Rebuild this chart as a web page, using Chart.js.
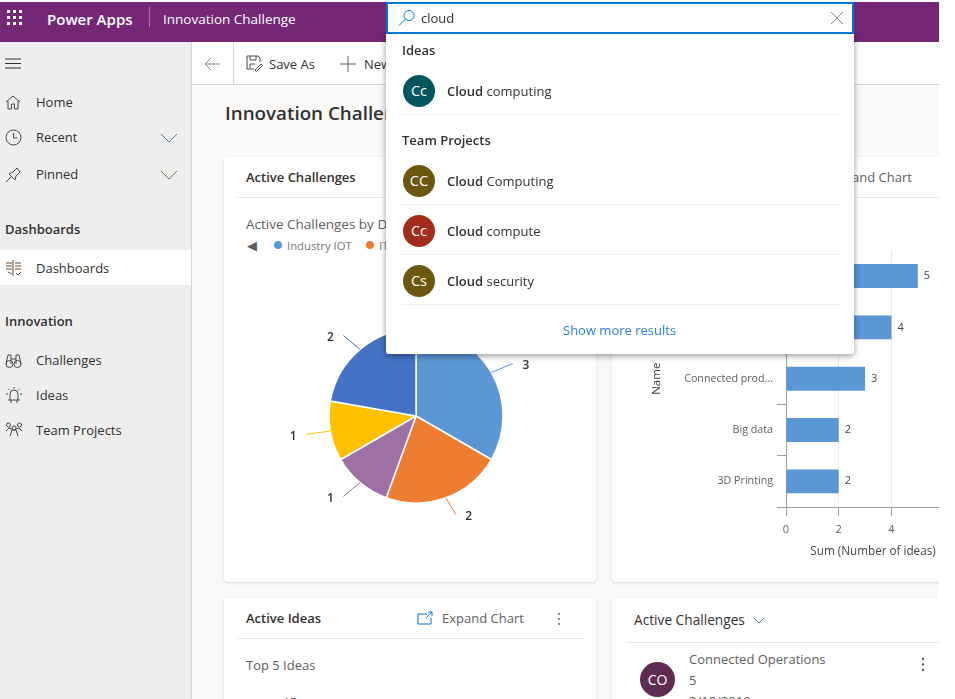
<!DOCTYPE html>
<html>
<head>
<meta charset="utf-8">
<title>Innovation Challenge</title>
<script src="https://cdn.jsdelivr.net/npm/chart.js@4"></script>
<style>
    html, body { margin: 0; padding: 0; background: #fff; overflow: hidden; }
    body { font-family: "Open Sans", "Noto Sans", sans-serif; font-size: 13px; color: #323130; }
    #app { position: absolute; left: 0; top: 0; width: 939px; height: 699px; overflow: hidden; background: #faf9f8; }
    #blank { position: absolute; left: 0; top: 0; width: 939px; height: 2px; background: #fff; z-index: 1; }
    .box { position: absolute; }
    .t { position: absolute; white-space: nowrap; transform: translateY(-50%); }
    .semi { font-weight: 600; }
    .dim { color: #605e5c; }
    .icon { position: absolute; fill: none; stroke: #484644; stroke-width: 1; }
    .card { position: absolute; background: #fff; border-radius: 4px; box-shadow: 0 1px 3px rgba(0,0,0,.14); }
    .rule { position: absolute; height: 1px; background: #e8e6e4; }
    .avatar { position: absolute; border-radius: 50%; color: #fff; text-align: center; }
    #topbar { position: absolute; left: 0; top: 2px; width: 939px; height: 40px; background: #742774; color: #fff; }
    #sidebar { position: absolute; left: 0; top: 42px; width: 191px; height: 657px; background: #eeeeee; border-right: 1px solid #d8d6d4; }
    #commands { position: absolute; left: 192px; top: 42px; width: 747px; height: 42px; background: #fff; border-bottom: 1px solid #d8d6d4; }
    #search { position: absolute; left: 386px; top: 2px; width: 464px; height: 28px; background: #fff; border: 2px solid #0078d4; z-index: 6; }
    #popup { position: absolute; left: 386px; top: 34px; width: 468px; height: 320px; background: #fff; border-radius: 0 0 3px 3px; box-shadow: 0 2px 6px rgba(0,0,0,.4); z-index: 5; }
</style>
</head>
<body>
<div id="app">
    <div id="blank"></div>
    <div id="topbar">
        <svg class="icon" style="left:7px;top:8px;stroke:none;fill:#fff" width="16" height="16" id="waffle"></svg>
        <div class="t semi" style="left:47px;top:17px;font-size:15px">Power Apps</div>
        <div class="box" style="left:149px;top:5px;width:1px;height:20px;background:#a877a8"></div>
        <div class="t" style="left:163px;top:17px;font-size:13.5px">Innovation Challenge</div>
    </div>

    <div id="sidebar"></div>
    <div class="box" style="left:0;top:250px;width:191px;height:35px;background:#fff"></div>
    <svg class="icon" style="left:5px;top:55px;stroke:#323130" width="18" height="16"><path d="M0 4h16M0 8.500h16M0 13h16"/></svg>
    <svg class="icon" style="left:5px;top:94px" width="18" height="17"><path d="M1 8l7-6 7 6M3 7v8h3.5v-5h3v5H13V7"/></svg>
    <svg class="icon" style="left:5px;top:129px" width="18" height="17"><circle cx="8.5" cy="8.5" r="7.5"/><path d="M8.5 4v5h4"/></svg>
    <svg class="icon" style="left:5px;top:166px" width="18" height="17"><path d="M1 16l5-5M4 8l6 6 1-4 4-4-3-4-4 4z"/></svg>
    <svg class="icon" style="left:6px;top:259px;stroke:#6b4a2e" width="16" height="18"><path d="M7 1v16M0 4h6M0 7h6M0 10h6M9 4h6M9 7h6M9 10h6M2 13l4 2M10 14l2 2 3-3"/></svg>
    <svg class="icon" style="left:5px;top:352px" width="18" height="17"><circle cx="4.5" cy="12" r="3.5"/><circle cx="12.5" cy="12" r="3.5"/><path d="M1 12l2-9h3v9M16 12l-2-9h-3v9M6 7h5"/></svg>
    <svg class="icon" style="left:5px;top:386px" width="18" height="18"><path d="M5 14V8a4 4 0 0 1 8 0v6M3 14h12M6 14v3M12 14v3M1 8h2M15 8h2M9 1v1.500M3.500 3l1 1M14.500 3l-1 1"/></svg>
    <svg class="icon" style="left:5px;top:422px" width="18" height="16"><circle cx="3.500" cy="3" r="2"/><circle cx="14.500" cy="3" r="2"/><circle cx="9" cy="6" r="2"/><path d="M1 9l3-3 3 1M17 9l-3-3-3 1M5 14l2-6h4l2 6"/></svg>
    <svg class="icon" style="left:160px;top:132px;stroke:#4f7fae" width="20" height="12"><path d="M1 2l8 8 8-8"/></svg>
    <svg class="icon" style="left:160px;top:169px;stroke:#8a6d4b" width="20" height="12"><path d="M1 2l8 8 8-8"/></svg>
    <div class="t" style="left:36px;top:102px">Home</div>
    <div class="t" style="left:36px;top:137px">Recent</div>
    <div class="t" style="left:36px;top:174px">Pinned</div>
    <div class="t semi" style="left:5px;top:229px">Dashboards</div>
    <div class="t" style="left:36px;top:268px">Dashboards</div>
    <div class="t semi" style="left:5px;top:321px">Innovation</div>
    <div class="t" style="left:36px;top:360px">Challenges</div>
    <div class="t" style="left:36px;top:395px">Ideas</div>
    <div class="t" style="left:36px;top:430px">Team Projects</div>

    <div id="commands"></div>
    <svg class="icon" style="left:204px;top:57px;stroke:#8a8886" width="17" height="14"><path d="M16 7H1M7 1L1 7l6 6"/></svg>
    <div class="box" style="left:233px;top:42px;width:1px;height:42px;background:#d8d6d4"></div>
    <svg class="icon" style="left:246px;top:55px" width="18" height="17"><path d="M8 14H1V1h11l2 2v4M4 1v4h6V1M4 13V9h5M9 15l6-6 1.500 1.500-6 6z"/></svg>
    <div class="t" style="left:269px;top:64px">Save As</div>
    <svg class="icon" style="left:340px;top:56px;stroke:#605e5c" width="16" height="16"><path d="M8 0v16M0 8h16"/></svg>
    <div class="t" style="left:364px;top:64px">New</div>

    <div class="t semi" style="left:225px;top:113px;font-size:18.800px">Innovation Challenges</div>

    <div class="card" style="left:224px;top:157px;width:372px;height:425px"></div>
    <div class="t semi" style="left:246px;top:177px">Active Challenges</div>
    <div class="rule" style="left:238px;top:197px;width:346px"></div>
    <div class="t dim" style="left:246px;top:224px;font-size:13.500px">Active Challenges by Domain</div>
    <div class="t" style="left:247px;top:245px;font-size:13px;color:#605e5c">◀</div>
    <div id="pieLegend"></div>
    <canvas id="pieChart" class="box" style="left:236px;top:276px"></canvas>

    <div class="card" style="left:612px;top:157px;width:400px;height:425px"></div>
    <div class="t dim" style="left:830px;top:177px">Expand Chart</div>
    <div class="rule" style="left:624px;top:197px;width:315px"></div>
    <canvas id="barChart" class="box" style="left:648px;top:240px"></canvas>

    <div class="card" style="left:224px;top:598px;width:372px;height:200px"></div>
    <div class="t semi" style="left:246px;top:618px">Active Ideas</div>
    <svg class="icon" style="left:417px;top:611px;stroke:#0078d4" width="17" height="15"><path d="M10 3H1v10h13V7M9 7l6-6M11 1h4v4"/></svg>
    <div class="t dim" style="left:442px;top:618px">Expand Chart</div>
    <svg class="icon" style="left:557px;top:612px;fill:#605e5c;stroke:none" width="4" height="14"><circle cx="2" cy="2" r="1"/><circle cx="2" cy="7" r="1"/><circle cx="2" cy="12" r="1"/></svg>
    <div class="rule" style="left:238px;top:638px;width:345px"></div>
    <div class="t dim" style="left:246px;top:665px">Top 5 Ideas</div>
    <div class="t dim" style="left:283px;top:702px;font-size:12px">15</div>

    <div class="card" style="left:612px;top:598px;width:400px;height:200px"></div>
    <div class="t" style="left:634px;top:619px;font-size:13.700px">Active Challenges</div>
    <svg class="icon" style="left:753px;top:617px;stroke:#4f7fae" width="12" height="8"><path d="M1 1l5 5 5-5"/></svg>
    <div class="rule" style="left:626px;top:642px;width:313px"></div>
    <div class="avatar" style="left:640px;top:662px;width:35px;height:35px;line-height:35px;background:#5e2c50;font-size:14px">CO</div>
    <div class="t dim" style="left:689px;top:659px">Connected Operations</div>
    <div class="t dim" style="left:689px;top:680px">5</div>
    <div class="t dim" style="left:689px;top:701px">2/12/2018</div>
    <svg class="icon" style="left:921px;top:657px;fill:#605e5c;stroke:none" width="4" height="15"><circle cx="2" cy="2" r="1.200"/><circle cx="2" cy="7.500" r="1.200"/><circle cx="2" cy="13" r="1.200"/></svg>

    <div id="search">
        <svg class="icon" style="left:10px;top:5px;stroke:#0078d4" width="18" height="18"><circle cx="11" cy="6.500" r="5"/><path d="M7.500 10L1 16.500"/></svg>
        <div class="t" style="left:33px;top:14px">cloud</div>
        <svg class="icon" style="left:442px;top:7px;stroke:#8a8886" width="14" height="14"><path d="M1 1l12 12M13 1L1 13"/></svg>
    </div>
    <div id="popup"></div>
</div>

<script>
// Values. Pie names after "IT" and the two top bar names
// sit behind the search dropdown, so they are only guesses.
const pieCategories = ['Industry IOT', 'IT', 'Manufacturing', 'Retail', 'Healthcare'];
const pieValues = [3, 2, 1, 1, 2];
const pieColors = ['#5b96d5', '#ed7d31', '#9e70a3', '#ffc000', '#4472c4'];

const barCategories = ['Cloud computing', 'Connected Ope...', 'Connected prod...', 'Big data', '3D Printing'];
const barValues = [5, 4, 3, 2, 2];
const barColor = '#5b96d5';

const ideaResults = [['#03565e', 'Cc', 'Cloud', ' computing']];
const projectResults = [
    ['#6b5710', 'CC', 'Cloud', ' Computing'],
    ['#a22d1d', 'Cc', 'Cloud', ' compute'],
    ['#6b5710', 'Cs', 'Cloud', ' security']
];

const fontName = '"Open Sans", "Noto Sans", sans-serif';

document.addEventListener('DOMContentLoaded', () => {
    buildWaffle();
    buildLegend();
    buildPopup();
    drawPie();
    drawBars();
});

function buildWaffle() {
    let dots = '';
    for (let r = 0; r < 3; r++) {
        for (let c = 0; c < 3; c++) {
            dots += `<rect x="${c * 6}" y="${r * 6}" width="3" height="3"/>`;
        }
    }
    document.getElementById('waffle').innerHTML = dots;
}

function buildLegend() {
    const legend = document.getElementById('pieLegend');
    let x = 274;
    let html = '';
    pieCategories.slice(0, 2).forEach((name, i) => {
        html += `<div class="box" style="left:${x}px;top:241px;width:8px;height:8px;border-radius:50%;background:${pieColors[i]}"></div>`;
        html += `<div class="t" style="left:${x + 13}px;top:245px;font-size:11.300px;color:#777">${name}</div>`;
        x += 92;
    });
    legend.innerHTML = html;
}

function buildPopup() {
    const popup = document.getElementById('popup');
    let html = '';
    const addRow = (row, y) => {
        html += `<div class="avatar" style="left:17px;top:${y - 16}px;width:32px;height:32px;line-height:32px;background:${row[0]};font-size:14.5px">${row[1]}</div>`;
        html += `<div class="t" style="left:61px;top:${y}px"><span class="semi">${row[2]}</span>${row[3]}</div>`;
        html += `<div class="rule" style="left:15px;top:${y + 23}px;width:439px;background:#efeeed"></div>`;
    };
    html += '<div class="t semi" style="left:16px;top:16px">Ideas</div>';
    ideaResults.forEach(row => addRow(row, 57));
    html += '<div class="t semi" style="left:16px;top:106px">Team Projects</div>';
    projectResults.forEach((row, i) => addRow(row, 147 + i * 50));
    html += '<div class="t" style="left:177px;top:296px;color:#2b7cd3">Show more results</div>';
    popup.innerHTML = html;
}

// leader lines and value labels around the pie
const pieLabelPlugin = {
    id: 'pieLabels',
    afterDatasetsDraw(chart) {
        const ctx = chart.ctx;
        chart.getDatasetMeta(0).data.forEach((arc, i) => {
            const p = arc.getProps(['x', 'y', 'startAngle', 'endAngle', 'outerRadius']);
            const mid = (p.startAngle + p.endAngle) / 2;
            const side = Math.cos(mid) > 0 ? 1 : -1;
            const x0 = p.x + Math.cos(mid) * p.outerRadius;
            const y0 = p.y + Math.sin(mid) * p.outerRadius;
            const x1 = x0 + Math.cos(mid) * 22 + side * 2.5;
            const y1 = y0 + Math.sin(mid) * 18;
            ctx.save();
            ctx.strokeStyle = pieColors[i];
            ctx.lineWidth = 1;
            ctx.beginPath();
            ctx.moveTo(x0, y0);
            ctx.lineTo(x1, y1);
            ctx.stroke();
            ctx.fillStyle = '#323130';
            ctx.font = `600 12px ${fontName}`;
            ctx.textAlign = 'center';
            ctx.textBaseline = 'middle';
            ctx.fillText(pieValues[i], x1 + side * 13, y1 + 2);
            ctx.restore();
        });
    }
};

function drawPie() {
    const canvas = document.getElementById('pieChart');
    canvas.width = 360;
    canvas.height = 280;
    new Chart(canvas.getContext('2d'), {
        type: 'pie',
        data: {
            labels: pieCategories,
            datasets: [{
                data: pieValues,
                backgroundColor: pieColors,
                borderColor: '#fff',
                borderWidth: 1.5
            }]
        },
        options: {
            responsive: false,
            animation: false,
            radius: 87,
            plugins: { legend: { display: false }, tooltip: { enabled: false } }
        },
        plugins: [pieLabelPlugin]
    });
}

// value next to the end of each bar
const barLabelPlugin = {
    id: 'barLabels',
    afterDatasetsDraw(chart) {
        const ctx = chart.ctx;
        chart.getDatasetMeta(0).data.forEach((bar, i) => {
            ctx.save();
            ctx.fillStyle = '#484644';
            ctx.font = `11px ${fontName}`;
            ctx.textBaseline = 'middle';
            ctx.fillText(barValues[i], bar.x + 6, bar.y);
            ctx.restore();
        });
    }
};

function drawBars() {
    const canvas = document.getElementById('barChart');
    canvas.width = 312;
    canvas.height = 330;
    new Chart(canvas.getContext('2d'), {
        type: 'bar',
        data: {
            labels: barCategories,
            datasets: [{
                data: barValues,
                backgroundColor: barColor,
                categoryPercentage: 1,
                barPercentage: 0.466
            }]
        },
        options: {
            indexAxis: 'y',
            responsive: false,
            animation: false,
            layout: { padding: { top: 10 } },
            plugins: { legend: { display: false }, tooltip: { enabled: false } },
            scales: {
                x: {
                    min: 0,
                    max: 6.6,
                    ticks: {
                        stepSize: 2,
                        includeBounds: false,
                        padding: 7,
                        color: '#605e5c',
                        font: { family: fontName, size: 11 }
                    },
                    grid: { color: '#edebe9', tickColor: '#a19f9d', tickLength: 9 },
                    border: { color: '#a19f9d' },
                    title: {
                        display: true,
                        text: 'Sum (Number of ideas)',
                        color: '#484644',
                        padding: { top: 0, bottom: 11 },
                        font: { family: fontName, size: 11.7 }
                    },
                    afterFit(scale) { scale.height = 63; }
                },
                y: {
                    ticks: {
                        padding: 4,
                        color: '#605e5c',
                        font: { family: fontName, size: 10.7 }
                    },
                    grid: { offset: true, drawOnChartArea: false, tickColor: '#a19f9d', tickLength: 9 },
                    border: { color: '#a19f9d' },
                    title: {
                        display: true,
                        text: 'Name',
                        color: '#3b3a39',
                        padding: { top: 2, bottom: 0 },
                        font: { family: fontName, size: 11.5 }
                    },
                    afterFit(scale) { scale.width = 138; }
                }
            }
        },
        plugins: [barLabelPlugin]
    });
}
</script>
</body>
</html>
